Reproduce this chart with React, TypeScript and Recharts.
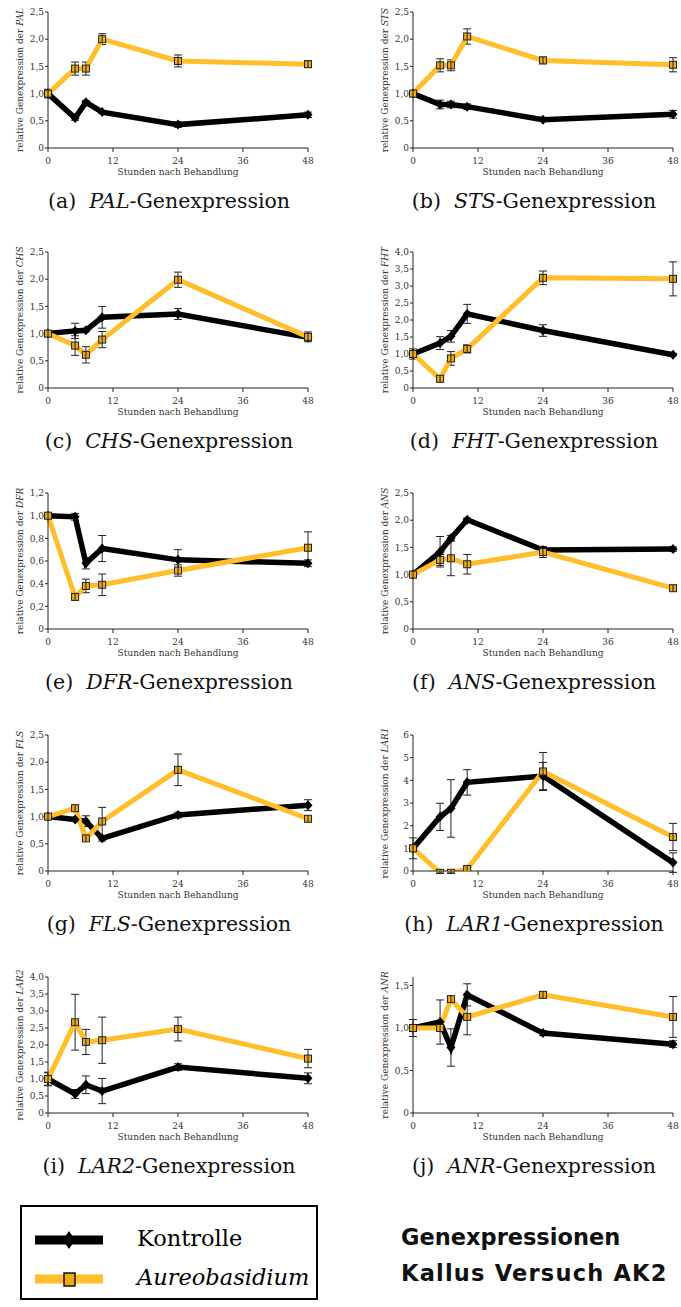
import React from 'react';
import { LineChart, Line, XAxis, YAxis, ErrorBar } from 'recharts';

// hours after treatment
const HOURS = [0, 5, 7, 10, 24, 48];
const X_TICKS = [0, 12, 24, 36, 48];

// Kontrolle / Aureobasidium, mean and error
const palK = [1.0, 0.55, 0.84, 0.66, 0.43, 0.61];
const palKErr = [0.08, 0.04, 0.03, 0.02, 0.05, 0.05];
const palA = [1.0, 1.46, 1.46, 2.0, 1.6, 1.54];
const palAErr = [0.06, 0.12, 0.12, 0.1, 0.11, 0.06];

const stsK = [1.0, 0.8, 0.8, 0.76, 0.52, 0.62];
const stsKErr = [0.04, 0.08, 0.06, 0.05, 0.03, 0.07];
const stsA = [1.0, 1.52, 1.52, 2.05, 1.61, 1.53];
const stsAErr = [0.04, 0.12, 0.1, 0.14, 0.06, 0.13];

const chsK = [1.0, 1.05, 1.06, 1.3, 1.36, 0.93];
const chsKErr = [0.03, 0.14, 0.03, 0.2, 0.1, 0.05];
const chsA = [1.0, 0.78, 0.61, 0.89, 1.99, 0.94];
const chsAErr = [0.03, 0.18, 0.15, 0.15, 0.14, 0.09];

const fhtK = [1.0, 1.32, 1.52, 2.18, 1.69, 0.98];
const fhtKErr = [0.15, 0.19, 0.17, 0.28, 0.17, 0.03];
const fhtA = [1.0, 0.27, 0.87, 1.15, 3.24, 3.21];
const fhtAErr = [0.1, 0.03, 0.2, 0.12, 0.2, 0.5];

const dfrK = [1.0, 0.99, 0.58, 0.71, 0.61, 0.58];
const dfrKErr = [0.01, 0.03, 0.05, 0.115, 0.09, 0.03];
const dfrA = [1.0, 0.283, 0.38, 0.39, 0.516, 0.717];
const dfrAErr = [0.01, 0.01, 0.06, 0.095, 0.05, 0.14];

const ansK = [1.0, 1.42, 1.67, 2.01, 1.45, 1.47];
const ansKErr = [0.03, 0.28, 0.05, 0.03, 0.05, 0.04];
const ansA = [1.0, 1.27, 1.3, 1.19, 1.415, 0.75];
const ansAErr = [0.03, 0.1, 0.32, 0.18, 0.1, 0.02];

const flsK = [1.0, 0.945, 0.915, 0.6, 1.03, 1.21];
const flsKErr = [0.02, 0.03, 0.1, 0.05, 0.05, 0.1];
const flsA = [1.0, 1.155, 0.6, 0.91, 1.86, 0.96];
const flsAErr = [0.02, 0.05, 0.03, 0.26, 0.29, 0.02];

const lar1K = [1.0, 2.39, 2.76, 3.91, 4.19, 0.37];
const lar1KErr = [0.46, 0.6, 1.27, 0.56, 0.6, 0.43];
const lar1A = [1.0, -0.08, -0.08, 0.09, 4.39, 1.5];
const lar1AErr = [0.1, 0.03, 0.03, 0.05, 0.84, 0.6];

const lar2K = [1.0, 0.56, 0.83, 0.645, 1.35, 1.02];
const lar2KErr = [0.18, 0.13, 0.26, 0.37, 0.1, 0.16];
const lar2A = [1.0, 2.67, 2.09, 2.14, 2.47, 1.6];
const lar2AErr = [0.2, 0.82, 0.37, 0.68, 0.35, 0.27];

const anrK = [1.0, 1.07, 0.77, 1.39, 0.94, 0.81];
const anrKErr = [0.1, 0.26, 0.22, 0.13, 0.03, 0.04];
const anrA = [1.0, 1.0, 1.34, 1.13, 1.39, 1.13];
const anrAErr = [0.04, 0.03, 0.02, 0.21, 0.03, 0.24];

const TICKS_25 = [0, 0.5, 1, 1.5, 2, 2.5];
const TICKS_40 = [0, 0.5, 1, 1.5, 2, 2.5, 3, 3.5, 4];
const TICKS_12 = [0, 0.2, 0.4, 0.6, 0.8, 1, 1.2];
const TICKS_6 = [0, 1, 2, 3, 4, 5, 6];
const TICKS_15 = [0, 0.5, 1, 1.5];

const panels = [
  { tag: 'a', gene: 'PAL', k: palK, kErr: palKErr, a: palA, aErr: palAErr, yMax: 2.5, ticks: TICKS_25 },
  { tag: 'b', gene: 'STS', k: stsK, kErr: stsKErr, a: stsA, aErr: stsAErr, yMax: 2.5, ticks: TICKS_25 },
  { tag: 'c', gene: 'CHS', k: chsK, kErr: chsKErr, a: chsA, aErr: chsAErr, yMax: 2.5, ticks: TICKS_25 },
  { tag: 'd', gene: 'FHT', k: fhtK, kErr: fhtKErr, a: fhtA, aErr: fhtAErr, yMax: 4, ticks: TICKS_40 },
  { tag: 'e', gene: 'DFR', k: dfrK, kErr: dfrKErr, a: dfrA, aErr: dfrAErr, yMax: 1.2, ticks: TICKS_12 },
  { tag: 'f', gene: 'ANS', k: ansK, kErr: ansKErr, a: ansA, aErr: ansAErr, yMax: 2.5, ticks: TICKS_25 },
  { tag: 'g', gene: 'FLS', k: flsK, kErr: flsKErr, a: flsA, aErr: flsAErr, yMax: 2.5, ticks: TICKS_25 },
  { tag: 'h', gene: 'LAR1', k: lar1K, kErr: lar1KErr, a: lar1A, aErr: lar1AErr, yMax: 6, ticks: TICKS_6, intTicks: true },
  { tag: 'i', gene: 'LAR2', k: lar2K, kErr: lar2KErr, a: lar2A, aErr: lar2AErr, yMax: 4, ticks: TICKS_40 },
  { tag: 'j', gene: 'ANR', k: anrK, kErr: anrKErr, a: anrA, aErr: anrAErr, yMax: 1.6, ticks: TICKS_15 },
];

const ROW_TOPS = [0, 240, 481, 723, 965];
const YELLOW = '#FFBE2A';
const SERIF = '"DejaVu Serif", serif';
const smallTick = { fontSize: 9, fontFamily: SERIF, fill: '#333' };

const fmtDec = (v: number) => (v === 0 ? '0' : v.toFixed(1).replace('.', ','));
const fmtInt = (v: number) => String(v);

const Diamond = (props: any) => {
  const { cx, cy } = props;
  if (cx == null || cy == null) return null;
  return <path d={`M${cx},${cy - 5}L${cx + 4.5},${cy}L${cx},${cy + 5}L${cx - 4.5},${cy}Z`} fill="#000" />;
};

const Square = (props: any) => {
  const { cx, cy } = props;
  if (cx == null || cy == null) return null;
  return (
    <g>
      <rect x={cx - 3.5} y={cy - 3.5} width={7} height={7} fill="#EDAA17" stroke="#222" strokeWidth={1} />
      <line x1={cx} y1={cy - 3.5} x2={cx} y2={cy + 3.5} stroke="#222" strokeWidth={1} />
    </g>
  );
};

const YLabel = (props: any) => {
  const { viewBox, gene } = props;
  const cx = viewBox.x + 20;
  const cy = viewBox.y + viewBox.height / 2;
  return (
    <text x={cx} y={cy} transform={`rotate(-90 ${cx} ${cy})`} textAnchor="middle" dominantBaseline="central"
      fontSize={9} fontFamily={SERIF} fill="#333">
      relative Genexpression der <tspan fontStyle="italic">{gene}</tspan>
    </text>
  );
};

const XLabel = (props: any) => {
  const { viewBox } = props;
  return (
    <text x={viewBox.x + viewBox.width / 2} y={viewBox.y + 27} textAnchor="middle"
      fontSize={9} fontFamily={SERIF} fill="#333">
      Stunden nach Behandlung
    </text>
  );
};

const Panel = ({ p, left, top, right }: any) => {
  const data = HOURS.map((h, i) => ({ h, k: p.k[i], kErr: p.kErr[i], a: p.a[i], aErr: p.aErr[i] }));
  const width = 48 + 260 + right;
  return (
    <div style={{ position: 'absolute', left, top }}>
      <LineChart width={width} height={185} data={data} margin={{ top: 12, right, bottom: 0, left: 0 }}>
        <XAxis dataKey="h" type="number" domain={[0, 48]} ticks={X_TICKS} tickSize={4} tickMargin={6}
          stroke="#222" tick={smallTick} height={37} label={(lp: any) => <XLabel {...lp} />} />
        <YAxis type="number" domain={[0, p.yMax]} ticks={p.ticks} allowDataOverflow width={48} tickSize={3}
          tickMargin={1} tickFormatter={p.intTicks ? fmtInt : fmtDec} tick={smallTick} stroke="#222"
          label={(lp: any) => <YLabel {...lp} gene={p.gene} />} />
        <Line dataKey="k" type="linear" stroke="#000" strokeWidth={5.5} dot={<Diamond />} activeDot={false}
          isAnimationActive={false}>
          <ErrorBar dataKey="kErr" width={4} stroke="#222" strokeWidth={1} direction="y" />
        </Line>
        <Line dataKey="a" type="linear" stroke={YELLOW} strokeWidth={5} dot={<Square />} activeDot={false}
          isAnimationActive={false}>
          <ErrorBar dataKey="aErr" width={4} stroke="#222" strokeWidth={1} direction="y" />
        </Line>
      </LineChart>
      <div style={{ position: 'absolute', left: 169 - 150, width: 300, top: 188, textAlign: 'center',
        fontFamily: SERIF, fontSize: 20.5, lineHeight: '26px', color: '#111', whiteSpace: 'nowrap' }}>
        ({p.tag})<span style={{ fontStyle: 'italic', marginLeft: 13 }}>{p.gene}</span>-Genexpression
      </div>
    </div>
  );
};

export default function App() {
  return (
    <div style={{ position: 'absolute', left: 0, top: 0, width: 681, height: 1307, overflow: 'hidden', background: '#fff' }}>
      {panels.map((p, i) => {
        const col = i % 2;
        const row = Math.floor(i / 2);
        return (
          <Panel key={p.tag} p={p} left={col === 0 ? 0 : 365} top={ROW_TOPS[row]} right={col === 0 ? 22 : 8} />
        );
      })}
      <div style={{ position: 'absolute', left: 20, top: 1205, width: 298, height: 95, border: '2px solid #000',
        boxSizing: 'border-box' }}>
        <svg width={110} height={91} style={{ position: 'absolute', left: 0, top: 0 }}>
          <line x1={13} y1={33} x2={81} y2={33} stroke="#000" strokeWidth={9} />
          <path d="M47,24L53,33L47,42L41,33Z" fill="#000" />
          <line x1={13} y1={72} x2={81} y2={72} stroke={YELLOW} strokeWidth={9} />
          <rect x={42} y={66} width={11} height={13} fill="#EDAA17" stroke="#111" strokeWidth={1.5} />
        </svg>
        <div style={{ position: 'absolute', left: 115, top: 17, fontFamily: SERIF, fontSize: 22.5, lineHeight: '28px' }}>
          Kontrolle
        </div>
        <div style={{ position: 'absolute', left: 115, top: 56, fontFamily: SERIF, fontSize: 22.5, lineHeight: '28px',
          fontStyle: 'italic' }}>
          Aureobasidium
        </div>
      </div>
      <div style={{ position: 'absolute', left: 401, top: 1219, fontFamily: '"DejaVu Sans", sans-serif',
        fontWeight: 'bold', fontSize: 22.5, lineHeight: '36px', color: '#111', whiteSpace: 'nowrap' }}>
        <div>Genexpressionen</div>
        <div style={{ letterSpacing: 1.2 }}>Kallus Versuch AK2</div>
      </div>
    </div>
  );
}
